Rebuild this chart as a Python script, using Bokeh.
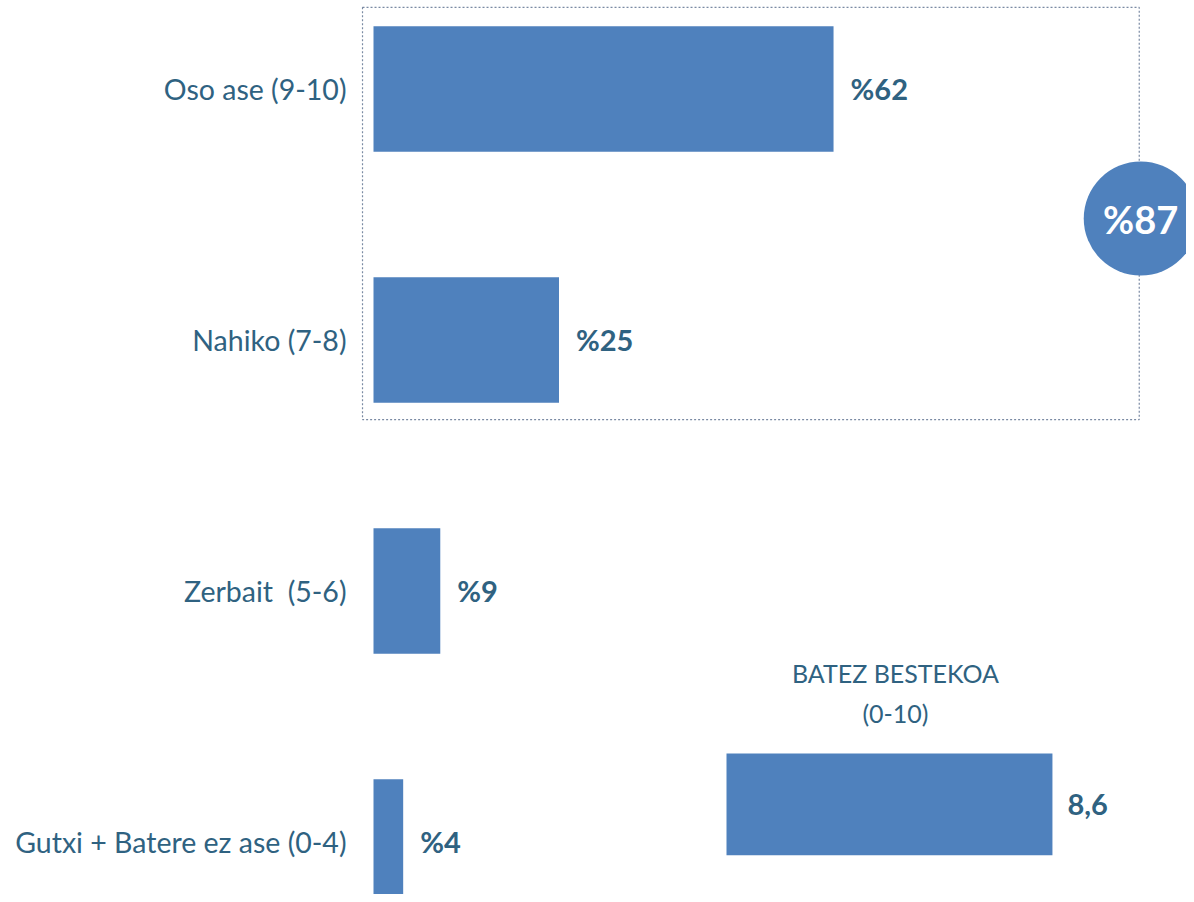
from bokeh.plotting import figure
from bokeh.models import Range1d
from bokeh.embed import file_html
from bokeh.resources import INLINE
from bokeh.core.properties import value

# ---- data ----
categories = ["Oso ase (9-10)", "Nahiko (7-8)", "Zerbait\u00a0 (5-6)", "Gutxi + Batere ez ase (0-4)"]
percents = [62, 25, 9, 4]
percent_labels = ["%62", "%25", "%9", "%4"]
total_label = "%87"
avg_title = ["BATEZ BESTEKOA", "(0-10)"]
avg_value = [8.6]
avg_label = ["8,6"]

# ---- layout ----
W, H = 1186, 894
PX_PCT = 7.42       # pixels per percent
X0 = 373            # pixel of 0 %
ROW = 251           # pixels per category row
Y0 = 88.5           # pixel of first row centre
PX_AVG = 37.9
X0_AVG = 726

BLUE = "#4F81BD"
TXT = "#2F6281"
FONT = value("Lato")

idx = list(range(len(categories)))

p = figure(width=W, height=H,
           x_range=Range1d(-X0 / PX_PCT, (W - X0) / PX_PCT),
           y_range=Range1d((H - Y0) / ROW, -Y0 / ROW),
           output_backend="svg", toolbar_location=None,
           x_axis_location=None, y_axis_location=None,
           min_border=0, outline_line_color=None)
p.grid.visible = False
p.extra_x_ranges = {"avg": Range1d(-X0_AVG / PX_AVG, (W - X0_AVG) / PX_AVG)}

# dotted box around the top two categories
p.quad(left=-1.48, right=103.2, top=-0.325, bottom=1.317,
       fill_color=None, line_color="#7A8AA3", line_dash="2 2", line_width=1.2)

# main bars
p.hbar(y=idx, left=0, right=percents, height=0.5, fill_color=BLUE, line_color=None)

# category labels
p.text(x=[0] * len(idx), y=idx, text=categories, x_offset=-27,
       text_align="right", text_baseline="middle",
       text_font=FONT, text_font_size="28.5px", text_color=TXT)

# value labels
p.text(x=percents, y=idx, text=percent_labels, x_offset=17, y_offset=-1,
       text_align="left", text_baseline="middle",
       text_font=FONT, text_font_size="29px", text_font_style="bold", text_color=TXT)

# total circle (sum of the two boxed categories)
cy = (idx[0] + idx[1]) / 2 + 0.016
p.scatter(x=[103.4], y=[cy], size=114, marker="circle", fill_color=BLUE, line_color=None)
p.text(x=[103.4], y=[cy], text=[total_label], text_align="center", text_baseline="middle",
       text_font=FONT, text_font_size="38px", text_font_style="bold", text_color="white")

# average bar
AVG_Y = 2.85
p.hbar(y=[AVG_Y], left=0, right=avg_value, height=0.406, fill_color=BLUE, line_color=None,
       x_range_name="avg")
p.text(x=avg_value, y=[AVG_Y], text=avg_label, x_offset=15, text_align="left",
       text_baseline="middle", text_font=FONT, text_font_size="29px",
       text_font_style="bold", text_color=TXT, x_range_name="avg")
p.text(x=[avg_value[0] / 2] * 2, y=[AVG_Y - 0.525, AVG_Y - 0.365], text=avg_title,
       x_offset=6, text_align="center", text_baseline="middle",
       text_font=FONT, text_font_size="25px", text_color=TXT, x_range_name="avg")

open("out.html", "w").write(file_html(p, INLINE))
